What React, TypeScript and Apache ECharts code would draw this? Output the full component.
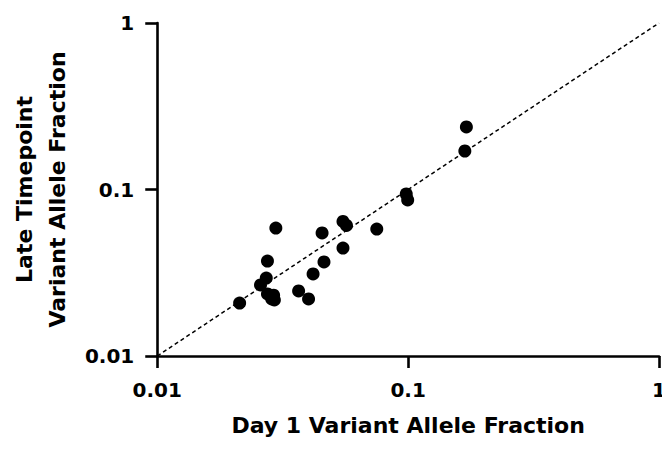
import React, { useEffect, useRef } from "react";
import * as echarts from "echarts";

const day1VAF: number[] = [
  0.0213, 0.0297, 0.0275, 0.0272, 0.0258, 0.0275, 0.0291, 0.0286, 0.0293,
  0.0366, 0.0401, 0.0418, 0.0462, 0.0454, 0.055, 0.055, 0.0568, 0.075,
  0.0983, 0.0996, 0.1683, 0.1707,
];
const lateVAF: number[] = [
  0.0208, 0.0587, 0.0372, 0.0294, 0.0267, 0.0236, 0.0232, 0.022, 0.0217,
  0.0246, 0.022, 0.0311, 0.0367, 0.0548, 0.0445, 0.0643, 0.0608, 0.0579,
  0.094, 0.0865, 0.1703, 0.2374,
];
const identityLine: number[][] = [
  [0.01, 0.01],
  [1, 1],
];
const xTitle = "Day 1 Variant Allele Fraction";
const yTitle = "Late Timepoint\nVariant Allele Fraction";

const FONT = "DejaVu Sans";

export default function App() {
  const ref = useRef<HTMLDivElement>(null);
  useEffect(() => {
    if (!ref.current) return;
    const chart = echarts.init(ref.current, undefined, { renderer: "svg" });
    const axisCommon = {
      type: "log" as const,
      logBase: 10,
      min: 0.01,
      max: 1,
      splitLine: { show: false },
      minorTick: { show: false },
      axisLine: { show: true, lineStyle: { color: "#000", width: 2.6 } },
      axisTick: {
        show: true,
        inside: false,
        length: 12,
        lineStyle: { color: "#000", width: 2.6 },
      },
      axisLabel: {
        color: "#000",
        fontFamily: FONT,
        fontWeight: "bold" as const,
        fontSize: 20,
        formatter: (v: number) => String(Number(v.toPrecision(3))),
      },
      nameLocation: "middle" as const,
      nameTextStyle: {
        color: "#000",
        fontFamily: FONT,
        fontWeight: "bold" as const,
        fontSize: 22,
      },
    };
    chart.setOption({
      animation: false,
      backgroundColor: "#fff",
      grid: { left: 155, right: 11, top: 23, bottom: 99 },
      xAxis: {
        ...axisCommon,
        name: xTitle,
        nameGap: 58,
        axisLabel: { ...axisCommon.axisLabel, margin: 24 },
      },
      yAxis: {
        ...axisCommon,
        name: yTitle,
        nameGap: 81,
        nameRotate: 90,
        nameTextStyle: { ...axisCommon.nameTextStyle, lineHeight: 33 },
        axisLabel: { ...axisCommon.axisLabel, margin: 23 },
      },
      series: [
        {
          type: "line",
          data: identityLine,
          symbol: "none",
          silent: true,
          lineStyle: { color: "#000", width: 1.5, type: [4, 3] },
          z: 1,
        },
        {
          type: "scatter",
          data: day1VAF.map((x, i) => [x, lateVAF[i]]),
          symbol: "circle",
          symbolSize: 13,
          itemStyle: { color: "#000", opacity: 1 },
          z: 2,
        },
      ],
    });
    return () => chart.dispose();
  }, []);
  return <div ref={ref} style={{ width: 670, height: 455, margin: -8 }} />;
}
